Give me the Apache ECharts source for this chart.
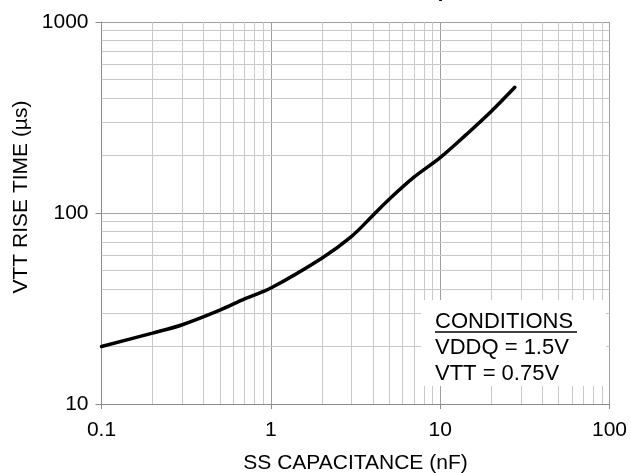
<!DOCTYPE html>
<html>
<head>
<meta charset="utf-8">
<script src="https://cdn.jsdelivr.net/npm/echarts@6/dist/echarts.min.js"></script>
<style>
  html, body { margin: 0; padding: 0; background: #fff; }
  #chart { width: 631px; height: 473px; }
</style>
</head>
<body>
<div id="chart"></div>
<script>
// SS capacitance (nF) vs VTT rise time (us)
const capacitance = [0.1, 0.2, 0.3, 0.5, 0.7, 1, 2, 3, 4, 5, 7, 10, 14.3, 20, 27.6];
const riseTime = [20, 23.5, 26, 31, 35.5, 40.5, 58, 75.5, 97, 118, 154, 195, 258, 340, 455];

// minor grid positions
const xMinor = [0.2, 0.3, 0.4, 0.5, 0.6, 0.7, 0.8, 0.9, 2, 3, 4, 5, 6, 7, 8, 9, 20, 30, 40, 50, 60, 70, 80, 90];
const yMinor = [20, 30, 40, 50, 60, 70, 80, 90, 200, 300, 400, 500, 600, 700, 800, 900];

const conditions = ['CONDITIONS', 'VDDQ = 1.5V', 'VTT = 0.75V'];

const FONT = '"Liberation Sans", Arial, sans-serif';

const chart = echarts.init(document.getElementById('chart'));

const minorLines = xMinor.map(v => ({ xAxis: v })).concat(yMinor.map(v => ({ yAxis: v })));
const points = capacitance.map((c, i) => [c, riseTime[i]]);

const option = {
    animation: false,
    grid: {
        left: 101.5,
        right: 21.5,
        top: 22,
        bottom: 69,
        outerBoundsMode: 'none'
    },
    xAxis: {
        type: 'log',
        logBase: 10,
        min: 0.1,
        max: 100,
        name: 'SS CAPACITANCE (nF)',
        nameLocation: 'middle',
        nameGap: 49,
        nameTextStyle: { color: '#000', fontFamily: FONT, fontSize: 21 },
        axisLine: { lineStyle: { color: '#8c8c8c', width: 1 } },
        axisTick: { show: true, length: 5, lineStyle: { color: '#8c8c8c' } },
        axisLabel: {
            color: '#000', fontFamily: FONT, fontSize: 21, margin: 16,
            formatter: v => String(v)
        },
        splitLine: { show: true, lineStyle: { color: '#a0a0a0', width: 1 } }
    },
    yAxis: {
        type: 'log',
        logBase: 10,
        min: 10,
        max: 1000,
        axisLine: { show: true, lineStyle: { color: '#8c8c8c', width: 1 } },
        axisTick: { show: true, length: 6, lineStyle: { color: '#8c8c8c' } },
        axisLabel: {
            color: '#000', fontFamily: FONT, fontSize: 21, margin: 13,
            formatter: v => String(v)
        },
        splitLine: { show: true, lineStyle: { color: '#a0a0a0', width: 1 } }
    },
    series: [
        {
            // carrier for the minor grid lines
            type: 'line',
            data: points,
            showSymbol: false,
            lineStyle: { opacity: 0 },
            silent: true,
            z: 1,
            markLine: {
                silent: true,
                symbol: 'none',
                animation: false,
                label: { show: false },
                lineStyle: { color: '#c8c8c8', width: 1, type: 'solid' },
                data: minorLines
            }
        },
        {
            name: 'Rise Time',
            type: 'line',
            data: points,
            smooth: 0.35,
            showSymbol: false,
            lineStyle: { color: '#000', width: 3.5, cap: 'round' },
            z: 5
        }
    ],
    graphic: [
        {
            // title, mostly above the visible area
            type: 'text',
            x: 450,
            y: -19,
            style: {
                text: 'VTT Rise Time vs SS Cap',
                font: 'bold 20px ' + FONT,
                fill: '#000',
                align: 'right'
            }
        },
        {
            // y axis name, sits a bit above the plot centre
            type: 'text',
            x: 21,
            y: 197,
            rotation: Math.PI / 2,
            style: {
                text: 'VTT RISE TIME (\u00b5s)',
                font: '21px ' + FONT,
                fill: '#000',
                align: 'center',
                verticalAlign: 'middle'
            }
        },
        {
            type: 'rect',
            z: 100,
            shape: { x: 421, y: 300, width: 185, height: 86 },
            style: { fill: '#fff' }
        },
        {
            type: 'text',
            z: 101,
            x: 435, y: 311,
            style: { text: conditions[0], font: '22px ' + FONT, fill: '#000' }
        },
        {
            type: 'line',
            z: 101,
            shape: { x1: 435, y1: 332, x2: 577, y2: 332 },
            style: { stroke: '#000', lineWidth: 1.5 }
        },
        {
            type: 'text',
            z: 101,
            x: 435, y: 337,
            style: { text: conditions[1], font: '22px ' + FONT, fill: '#000' }
        },
        {
            type: 'text',
            z: 101,
            x: 435, y: 363,
            style: { text: conditions[2], font: '22px ' + FONT, fill: '#000' }
        }
    ]
};

chart.setOption(option);
</script>
</body>
</html>
